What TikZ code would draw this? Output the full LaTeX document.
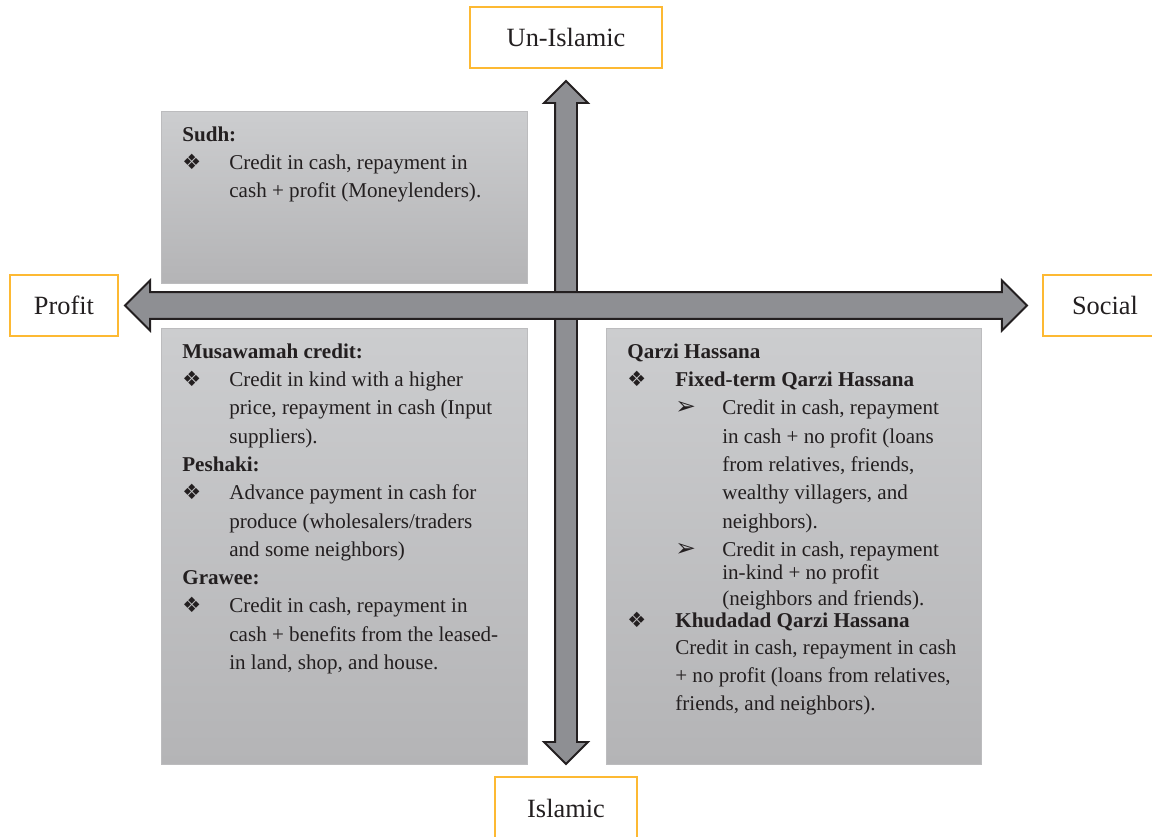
\documentclass[tikz,border=0pt]{standalone}
\usepackage{fontspec}
\setmainfont{Liberation Serif}
\newfontfamily\dingfont{DejaVu Sans}
\usetikzlibrary{shapes.arrows}
\definecolor{myorange}{RGB}{253,185,51}
\definecolor{mygray}{RGB}{142,143,147}
\definecolor{mydark}{RGB}{35,31,32}
\definecolor{paneltop}{RGB}{204,205,207}
\definecolor{panelbot}{RGB}{180,180,182}
\definecolor{paneledge}{RGB}{188,188,190}
\newcommand{\dbul}{{\dingfont\fontsize{12}{12}\selectfont ❖}}
\newcommand{\abul}{{\dingfont\fontsize{14}{12}\selectfont ➢}}
\tikzset{
  axislabel/.style={rectangle, draw=myorange, fill=white, line width=1.1pt,
    minimum height=1.22cm, inner sep=0pt, font=\fontsize{15}{18}\selectfont, text=mydark},
  panel/.style={rectangle, draw=paneledge, top color=paneltop, bottom color=panelbot,
    line width=0.4pt, inner sep=0pt},
  panelbody/.style={anchor=north west, inner sep=0pt, align=left,
    font=\fontsize{12}{16.1}\selectfont, text=mydark},
  axisarrow/.style={double arrow, draw=mydark, fill=mygray, line width=1.1pt,
    inner xsep=0pt, double arrow tip angle=90}
}

\begin{document}
\begin{tikzpicture}[x=0.02cm, y=-0.02cm]
  \useasboundingbox (0,0) rectangle (1152,837);

  % Quadrant panels
  \node[panel, minimum width=7.32cm, minimum height=3.44cm] (sudh) at (344,197) {};
  \node[panel, minimum width=7.32cm, minimum height=8.72cm] (musa) at (344,546) {};
  \node[panel, minimum width=7.5cm, minimum height=8.72cm] (qarzi) at (793.5,546) {};

  % Panel texts
  \node[panelbody] (sudhtxt) at (182,121.2) {%
    \begin{tabular}{@{}p{0.94cm}@{}l@{}}
      \multicolumn{2}{@{}l@{}}{\textbf{Sudh:}}\\
      \dbul & Credit in cash, repayment in\\
            & cash + profit (Moneylenders).
    \end{tabular}};
  \node[panelbody] (musatxt) at (182,338.2) {%
    \begin{tabular}{@{}p{0.94cm}@{}l@{}}
      \multicolumn{2}{@{}l@{}}{\textbf{Musawamah credit:}}\\
      \dbul & Credit in kind with a higher\\
            & price, repayment in cash (Input\\
            & suppliers).\\
      \multicolumn{2}{@{}l@{}}{\textbf{Peshaki:}}\\
      \dbul & Advance payment in cash for\\
            & produce (wholesalers/traders\\
            & and some neighbors)\\
      \multicolumn{2}{@{}l@{}}{\textbf{Grawee:}}\\
      \dbul & Credit in cash, repayment in\\
            & cash + benefits from the leased-\\
            & in land, shop, and house.
    \end{tabular}};
  \node[panelbody] (qarzitxt) at (627,338.2) {%
    \begin{tabular}{@{}p{0.96cm}@{}p{0.94cm}@{}l@{}}
      \multicolumn{3}{@{}l@{}}{\textbf{Qarzi Hassana}}\\
      \dbul & \multicolumn{2}{@{}l@{}}{\textbf{Fixed-term Qarzi Hassana}}\\
            & \abul & Credit in cash, repayment\\
            &       & in cash + no profit (loans\\
            &       & from relatives, friends,\\
            &       & wealthy villagers, and\\
            &       & neighbors).\\
            & \abul & Credit in cash, repayment\\[-3pt]
            &       & in-kind + no profit\\[-1.4pt]
            &       & (neighbors and friends).\\[-3.6pt]
      \dbul & \multicolumn{2}{@{}l@{}}{\textbf{Khudadad Qarzi Hassana}}\\[-0.6pt]
            & \multicolumn{2}{@{}l@{}}{Credit in cash, repayment in cash}\\
            & \multicolumn{2}{@{}l@{}}{+ no profit (loans from relatives,}\\
            & \multicolumn{2}{@{}l@{}}{friends, and neighbors).}
    \end{tabular}};

  % Axes
  \node[axisarrow, rotate=90, minimum height=13.66cm, minimum width=0.84cm,
        inner ysep=0.2cm, double arrow head extend=0.22cm] (vaxis) at (566,422.5) {};
  \node[axisarrow, minimum height=18.04cm, minimum width=0.96cm,
        inner ysep=0.25cm, double arrow head extend=0.23cm] (haxis) at (576,305.5) {};

  % Axis labels
  \node[axislabel, minimum width=3.84cm] (unislamic) at (566,37.5) {Un-Islamic};
  \node[axislabel, minimum width=2.84cm, minimum height=1.24cm] (islamic) at (566,808) {Islamic};
  \node[axislabel, minimum width=2.16cm] (profit) at (64,305.5) {Profit};
  \node[axislabel, minimum width=2.48cm] (social) at (1105,305.5) {Social};
\end{tikzpicture}
\end{document}
